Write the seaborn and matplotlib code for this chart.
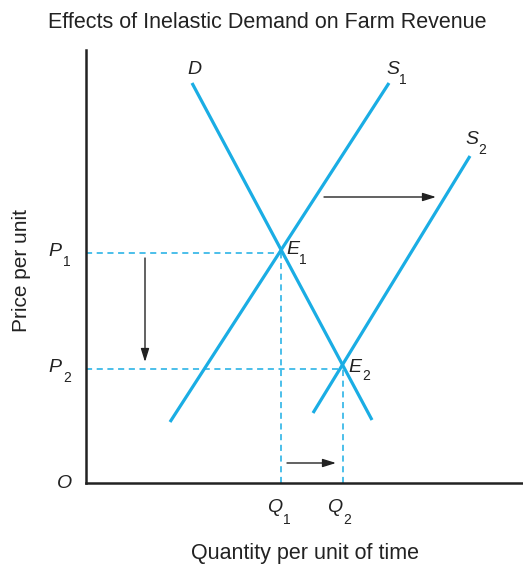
import matplotlib
matplotlib.use("Agg")
import matplotlib.pyplot as plt
import seaborn as sns
import pandas as pd

# ---- data (quantity, price) in chart units ----
demand_q = [106, 286]
demand_p = [400, 63]
supply1_q = [84, 303]
supply1_p = [61, 400]
supply2_q = [227, 384]
supply2_p = [70, 327]
eq_q = [195, 257]      # Q1, Q2
eq_p = [230, 114]      # P1, P2
curve_names = ["D", "S1", "S2"]

sns.set_style("white")
plt.rcParams['font.family'] = ['Liberation Sans', 'DejaVu Sans']

W, H = 523, 565
fig = plt.figure(figsize=(W / 100, H / 100), dpi=100)
ax = fig.add_axes([86 / W, (H - 483) / H, (522 - 86) / W, (483 - 50) / H])
ax.set_xlim(0, 436)
ax.set_ylim(0, 433)

cyan = "#1aade4"
df = pd.concat([
    pd.DataFrame({"q": demand_q, "p": demand_p, "curve": "D"}),
    pd.DataFrame({"q": supply1_q, "p": supply1_p, "curve": "S1"}),
    pd.DataFrame({"q": supply2_q, "p": supply2_p, "curve": "S2"}),
])
for name in curve_names:
    sns.lineplot(data=df[df.curve == name], x="q", y="p", color=cyan, lw=2.3,
                 ax=ax, sort=False, estimator=None, solid_capstyle="butt")

# dashed guide lines
dash = dict(color=cyan, lw=1.1, ls=(0, (4, 3)))
for q, p in zip(eq_q, eq_p):
    ax.plot([0, q], [p, p], **dash)
    ax.plot([q, q], [0, p], **dash)

# arrows
arr = dict(arrowstyle="-|>,head_length=0.8,head_width=0.25", color="#222222", lw=1.0,
           shrinkA=0, shrinkB=0)
ax.annotate("", xy=(59, 121), xytext=(59, 225), arrowprops=arr)
ax.annotate("", xy=(350, 286), xytext=(238, 286), arrowprops=arr)
ax.annotate("", xy=(250, 20), xytext=(201, 20), arrowprops=arr)

# labels
lab = dict(fontsize=14, color="#222222", style="italic", ha="center", va="center")
sub = dict(fontsize=10, color="#222222", ha="center", va="center")

def label(x, y, main, s=None, dx=10, dy=-9):
    ax.text(x, y, main, **lab, clip_on=False)
    if s:
        ax.text(x + dx, y + dy, s, **sub, clip_on=False)

label(108, 414, "D")
label(307, 413, "S", "1", dx=10, dy=-10)
label(386, 343, "S", "2", dx=10, dy=-10)
label(207, 233, "E", "1", dx=10, dy=-10)
label(269, 116, "E", "2", dx=11, dy=-9)
label(-31, 231, "P", "1", dx=12, dy=-10)
label(-31, 115, "P", "2", dx=12, dy=-10)
label(189, -25, "Q", "1", dx=12, dy=-12)
label(249, -25, "Q", "2", dx=12, dy=-12)
ax.text(-21, -1, "O", **lab, clip_on=False)

for s in ["top", "right"]:
    ax.spines[s].set_visible(False)
for s in ["left", "bottom"]:
    ax.spines[s].set_linewidth(1.8)
    ax.spines[s].set_color("#222222")
ax.set_xticks([])
ax.set_yticks([])
ax.set_xlabel("")
ax.set_ylabel("")

fig.text(267 / W, 1 - 22 / H, "Effects of Inelastic Demand on Farm Revenue",
         ha="center", va="center", fontsize=15.5, color="#222222")
fig.text(22 / W, 1 - 270 / H, "Price per unit", rotation=90,
         ha="center", va="center", fontsize=15, color="#222222")
fig.text(305 / W, 1 - 553 / H, "Quantity per unit of time",
         ha="center", va="center", fontsize=15.5, color="#222222")

fig.savefig("out.png", dpi=100)
